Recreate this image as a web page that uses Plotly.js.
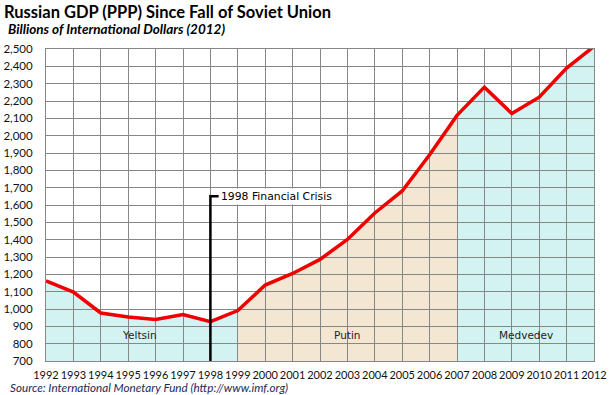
<!DOCTYPE html>
<html>
<head>
<meta charset="utf-8">
<script src="https://cdn.plot.ly/plotly-3.0.1.min.js"></script>
<style>html,body{margin:0;padding:0;background:#fff;}#chart{width:616px;height:395px;}</style>
</head>
<body>
<div id="chart"></div>
<script>
// ---- data ----
const years = [1992,1993,1994,1995,1996,1997,1998,1999,2000,2001,2002,2003,2004,2005,2006,2007,2008,2009,2010,2011,2012];
const gdp   = [1163,1098,977,954,939,968,927,991,1138,1205,1286,1401,1554,1681,1890,2117,2280,2128,2222,2390,2515];
const eraNames  = ['Yeltsin','Putin','Medvedev'];
const eraStart  = [1992,1999,2007];
const eraEnd    = [1999,2007,2012];
const eraLabelX = [1995.4,2003,2009.5];
const eraLabelY = [852,852,852];
const crisisYear = 1998;
const crisisTop = 1650;
const crisisLabel = '1998 Financial Crisis';
const yTicks = [700,800,900,1000,1100,1200,1300,1400,1500,1600,1700,1800,1900,2000,2100,2200,2300,2400,2500];
const yTickText = yTicks.map(v => v.toLocaleString('en-US'));
const titleText = 'Russian GDP (PPP) Since Fall of Soviet Union';
const subtitleText = 'Billions of International Dollars (2012)';
const sourceText = 'Source: International Monetary Fund (http://www.imf.org)';

// ---- styles ----
const eraColors = ['#d3f3f3','#f3e6d3','#d3f3f3'];
const gridColor = '#878787';
const W = 616, H = 395;
const M = {l:46, r:22, t:49, b:34};
const pw = W - M.l - M.r, ph = H - M.t - M.b;
const yMin = 700, yMax = 2500;

// area fills per era as shapes below gridlines
const shapes = eraNames.map((n, i) => {
  let p = `M ${eraStart[i]},${yMin}`;
  years.forEach((yr, j) => {
    if (yr >= eraStart[i] && yr <= eraEnd[i]) p += ` L ${yr},${gdp[j]}`;
  });
  p += ` L ${eraEnd[i]},${yMin} Z`;
  return {type:'path', xref:'x', yref:'y', path:p, fillcolor:eraColors[i], line:{width:0}, layer:'below'};
});

const traces = [
  {x: years, y: gdp, type:'scatter', mode:'lines', line:{color:'#ee0000', width:3.5}, hoverinfo:'x+y'},
  {x: [crisisYear, crisisYear, crisisYear + 0.3], y: [yMin, crisisTop, crisisTop], type:'scatter', mode:'lines',
   line:{color:'#000000', width:2.5}, hoverinfo:'skip'}
];

const px2paperX = px => (px - M.l) / pw;
const px2paperY = py => (H - M.b - py) / ph;

const annotations = [
  {xref:'paper', yref:'paper', x:px2paperX(6), y:px2paperY(29), xanchor:'left', yanchor:'middle', showarrow:false,
   text:'<b><i>' + subtitleText + '</i></b>', font:{family:'Lato', size:13.5, color:'#000'}},
  {xref:'paper', yref:'paper', x:px2paperX(8), y:px2paperY(387), xanchor:'left', yanchor:'middle', showarrow:false,
   text:'<i>' + sourceText + '</i>', font:{family:'Lato', size:11.7, color:'#1a2a5a'}},
  {xref:'x', yref:'y', x:crisisYear + 0.3, y:crisisTop, xanchor:'left', yanchor:'middle', showarrow:false,
   text:crisisLabel, bgcolor:'#ffffff', borderpad:1, font:{family:'DejaVu Sans', size:10.8, color:'#000'}}
].concat(eraNames.map((n, i) => ({
  xref:'x', yref:'y', x:eraLabelX[i], y:eraLabelY[i], showarrow:false, text:n,
  font:{family:'DejaVu Sans', size:10.5, color:'#222'}
})));

const layout = {
  width: W, height: H,
  margin: M,
  paper_bgcolor:'#ffffff', plot_bgcolor:'#ffffff',
  showlegend:false,
  title:{text:'<b>' + titleText + '</b>', xref:'container', yref:'container', x:4/W, xanchor:'left',
         y:1 - 12/H, yanchor:'middle', font:{family:'Lato', size:16.5, color:'#000'}},
  xaxis:{range:[1992,2012], tickvals:years, ticktext:years.map(String), tickangle:0, showgrid:true, gridcolor:gridColor, gridwidth:1,
         zeroline:false, showline:true, linecolor:gridColor, linewidth:1, mirror:true, ticks:'', ticklabelstandoff:4,
         tickfont:{family:'Lato', size:11, color:'#111'}, fixedrange:true},
  yaxis:{range:[yMin,yMax], tickvals:yTicks, ticktext:yTickText, showgrid:true, gridcolor:gridColor, gridwidth:1,
         zeroline:false, showline:true, linecolor:gridColor, linewidth:1, mirror:true, ticks:'', ticklabelstandoff:10,
         tickfont:{family:'Lato', size:11.5, color:'#111'}, fixedrange:true},
  shapes: shapes,
  annotations: annotations
};

Plotly.newPlot('chart', traces, layout, {displayModeBar:false, staticPlot:true});
</script>
</body>
</html>
